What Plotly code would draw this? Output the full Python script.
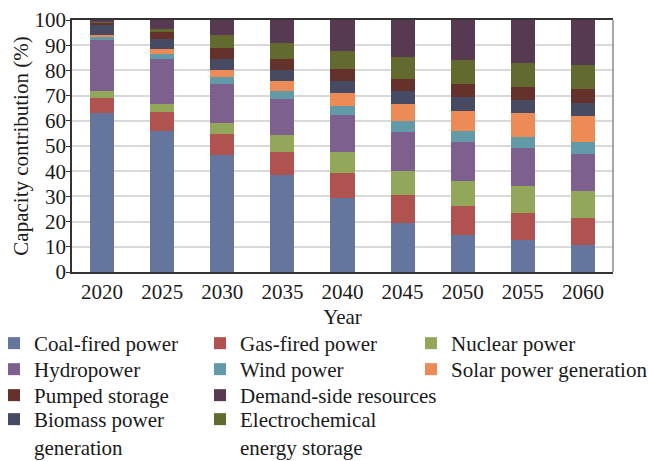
import plotly.graph_objects as go

# Share of total capacity contribution (%) by source, 2020-2060
years = ["2020", "2025", "2030", "2035", "2040", "2045", "2050", "2055", "2060"]

coal = [63.2, 56.0, 46.6, 38.5, 29.2, 19.6, 14.8, 12.6, 10.6]
gas = [6.0, 7.4, 8.3, 9.3, 10.2, 10.8, 11.2, 10.8, 10.7]
nuclear = [2.8, 3.3, 4.4, 6.4, 8.4, 9.7, 10.3, 10.7, 10.7]
hydro = [19.9, 17.8, 15.2, 14.3, 14.4, 15.6, 15.3, 15.1, 14.7]
wind = [1.4, 2.2, 2.9, 3.2, 3.7, 4.1, 4.5, 4.5, 4.8]
solar = [0.9, 1.7, 2.8, 3.9, 5.0, 6.7, 7.9, 9.3, 10.3]
biomass = [3.8, 3.9, 4.2, 4.4, 4.9, 5.2, 5.4, 5.3, 5.4]
pumped = [1.2, 3.1, 4.5, 4.5, 4.6, 4.8, 5.1, 5.3, 5.3]
electro = [0.4, 0.9, 5.0, 6.4, 7.3, 9.0, 9.6, 9.5, 9.6]
demand = [0.4, 3.7, 6.1, 9.1, 12.3, 14.5, 15.9, 16.9, 17.9]

# stacking order, bottom to top
series = [
    ("Coal-fired power", coal, "#64759e"),
    ("Gas-fired power", gas, "#b0524f"),
    ("Nuclear power", nuclear, "#93a75b"),
    ("Hydropower", hydro, "#7d608d"),
    ("Wind power", wind, "#629aa8"),
    ("Solar power generation", solar, "#ec8b55"),
    ("Biomass power<br>generation", biomass, "#464b63"),
    ("Pumped storage", pumped, "#65312b"),
    ("Electrochemical<br>energy storage", electro, "#636a30"),
    ("Demand-side resources", demand, "#573a52"),
]

# legend grid slot (column, row) for each series
slots = {
    "Coal-fired power": (0, 0),
    "Gas-fired power": (1, 0),
    "Nuclear power": (2, 0),
    "Hydropower": (0, 1),
    "Wind power": (1, 1),
    "Solar power generation": (2, 1),
    "Pumped storage": (0, 2),
    "Demand-side resources": (1, 2),
    "Biomass power<br>generation": (0, 3),
    "Electrochemical<br>energy storage": (1, 3),
}

W, H = 648, 461
ML, MR, MT, MB = 72, 35, 20, 189
PW, PH = W - ML - MR, H - MT - MB
FONT = "Liberation Serif"
TXT = "#1a1a1a"

col_text_x = [32, 238, 449]
row_center_y = [345, 371, 397, 421]

fig = go.Figure()
layout_legends = {}
for i, (name, vals, color) in enumerate(series):
    key = "legend" if i == 0 else f"legend{i + 1}"
    fig.add_trace(go.Bar(
        x=years, y=vals, name=name, marker=dict(color=color, line=dict(width=0)),
        legend=key, showlegend=True,
    ))
    c, r = slots[name]
    left_px = col_text_x[c] - 38
    top_px = row_center_y[r] - 22
    layout_legends[key] = dict(
        x=(left_px - ML) / PW, xanchor="left",
        y=(MT + PH - top_px) / PH, yanchor="top",
        bgcolor="rgba(0,0,0,0)", borderwidth=0,
        font=dict(family=FONT, size=21, color=TXT),
        valign="top", itemwidth=30,
    )

fig.update_layout(
    width=W, height=H,
    margin=dict(l=ML, r=MR, t=MT, b=MB, autoexpand=False),
    barmode="stack", bargap=0.6,
    plot_bgcolor="white", paper_bgcolor="white",
    font=dict(family=FONT, size=21, color=TXT),
    showlegend=True,
    **layout_legends,
)

fig.update_xaxes(
    type="category", showgrid=False, ticks="",
    showline=True, linecolor="#333333", linewidth=1.5, mirror=True,
    tickfont=dict(family=FONT, size=21, color=TXT),
    title=dict(text="Year", font=dict(family=FONT, size=21, color=TXT), standoff=6),
)
fig.update_yaxes(
    range=[0, 100], dtick=10, showgrid=True, gridcolor="#d9d9d9", gridwidth=1.5,
    ticks="outside", ticklen=4, tickcolor="#333333", tickwidth=1,
    ticklabelstandoff=-4,
    showline=True, linecolor="#333333", linewidth=1.5, mirror=False,
    zeroline=False,
    tickfont=dict(family=FONT, size=21, color=TXT),
    title=dict(text="Capacity contribution (%)", font=dict(family=FONT, size=21, color=TXT), standoff=0),
)

# lighter right-hand frame edge
fig.add_shape(type="line", xref="paper", yref="paper", x0=1, x1=1, y0=0, y1=1,
              line=dict(color="#8c8c8c", width=1.5))

fig.write_html("out.html")
